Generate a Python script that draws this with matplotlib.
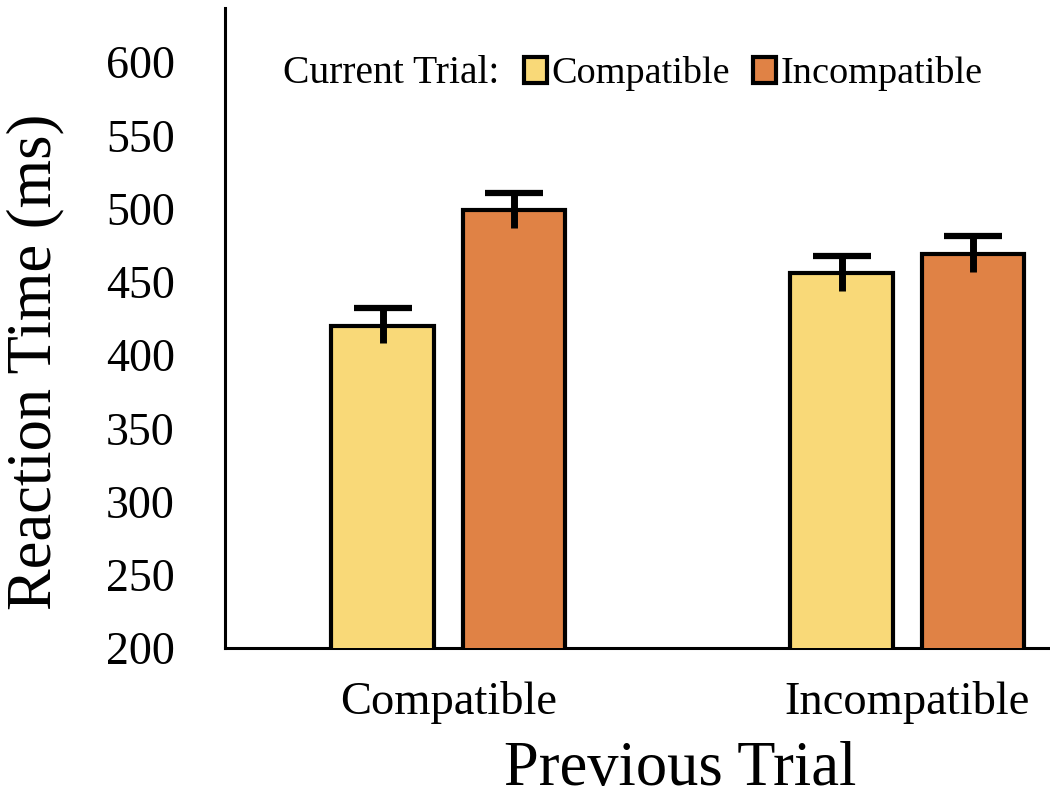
import matplotlib.pyplot as plt
import numpy as np

plt.rcParams['font.family'] = ['Liberation Serif', 'DejaVu Serif']

groups = ['Compatible', 'Incompatible']          # previous trial
series = ['Compatible', 'Incompatible']          # current trial
rt_compat = [420, 456]
rt_incompat = [499, 469]
err_compat = [12, 12]
err_incompat = [12, 12]
colors = ['#F9D978', '#E08245']
yticks = [200, 250, 300, 350, 400, 450, 500, 550, 600]

fig = plt.figure(figsize=(10.5, 8), dpi=100)
ax = fig.add_axes([0.214, 0.19, 0.784, 0.80])

x = np.arange(len(groups))
w = 0.224
off = 0.143
ekw = dict(elinewidth=5, capthick=4.5, ecolor='black', zorder=4)
ax.bar(x - off, rt_compat, w, color=colors[0], edgecolor='black',
       linewidth=3, label=series[0], zorder=3)
ax.bar(x + off, rt_incompat, w, color=colors[1], edgecolor='black',
       linewidth=3, label=series[1], zorder=3)
for xs, ys, es in [(x - off, rt_compat, err_compat), (x + off, rt_incompat, err_incompat)]:
    eb = ax.errorbar(xs, ys, yerr=es, fmt='none', capsize=21, **ekw)
    eb[1][0].set_visible(False)   # only the upper cap is shown

ax.set_ylim(200, 637)
ax.set_xlim(-0.487, 1.306)
ax.set_yticks(yticks)
ax.set_xticks(x)
ax.set_xticklabels(groups)
ax.tick_params(axis='y', length=0, labelsize=33, pad=36)
ax.tick_params(axis='x', length=0, labelsize=33.5, pad=24)

for s in ['top', 'right']:
    ax.spines[s].set_visible(False)
ax.spines['left'].set_linewidth(2.2)
ax.spines['bottom'].set_linewidth(2.2)

ax.set_ylabel('Reaction Time (ms)', fontsize=45)
ax.yaxis.set_label_coords(-0.195, 0.447)
ax.set_xlabel('Previous Trial', fontsize=45)
ax.xaxis.set_label_coords(0.553, -0.145)

ax.text(0.071, 0.897, 'Current Trial:', transform=ax.transAxes, fontsize=28.5,
        va='center', ha='left')
ax.legend(loc='center left', bbox_to_anchor=(0.34, 0.897), ncol=2, frameon=False,
          fontsize=27.5, handlelength=0.6, handleheight=0.65, handletextpad=0.12,
          columnspacing=0.6, borderpad=0)

fig.savefig('out.png', dpi=100)
